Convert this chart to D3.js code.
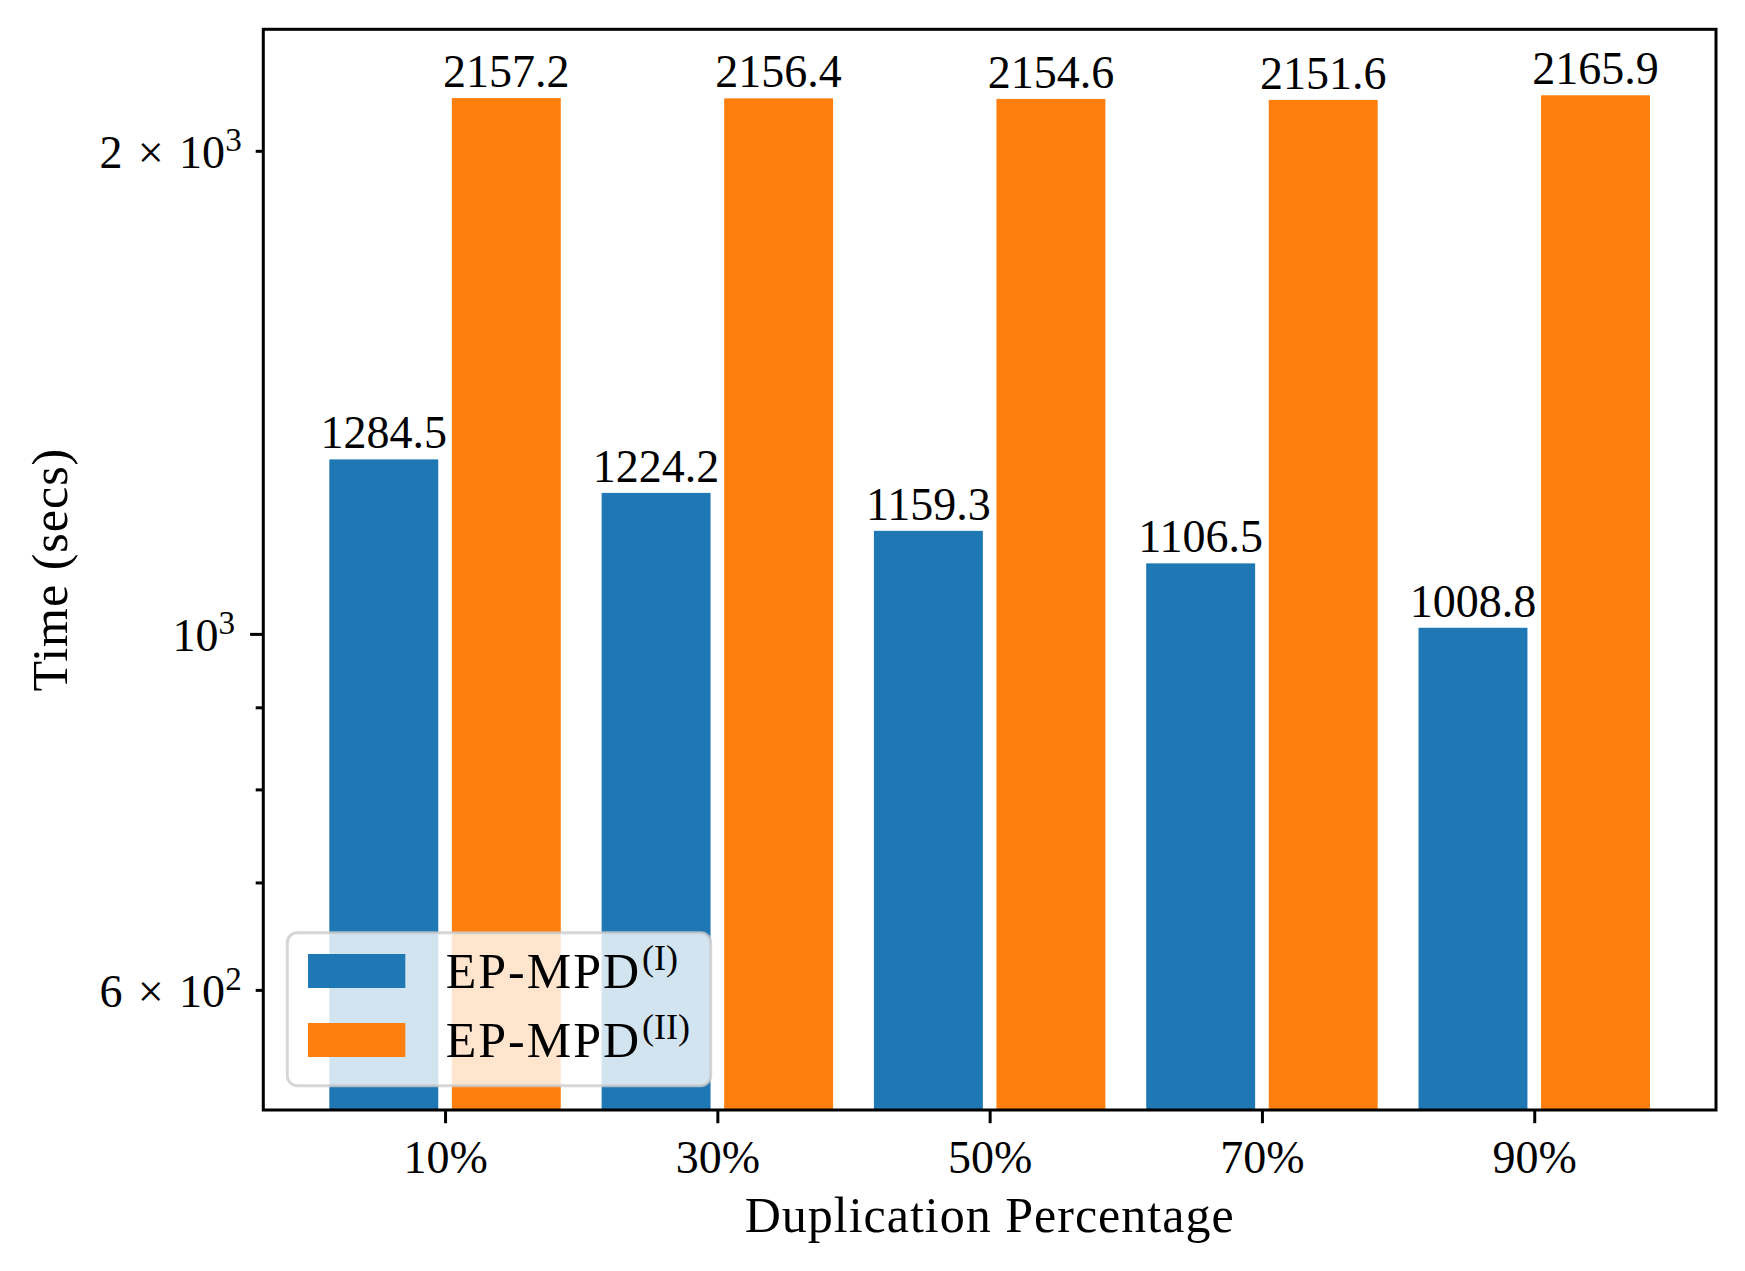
<!DOCTYPE html>
<html>
<head>
<meta charset="utf-8">
<script src="https://cdn.jsdelivr.net/npm/d3@7"></script>
<style>
  html, body { margin: 0; padding: 0; background: #fff; }
  svg { display: block; }
  text { font-family: "Liberation Serif", "DejaVu Serif", serif; fill: #000; }
</style>
</head>
<body>
<svg id="chart" width="1745" height="1271"></svg>
<script>
// ---- data ----
const categories = ["10%", "30%", "50%", "70%", "90%"];
const seriesBase = ["EP-MPD", "EP-MPD"];
const seriesSup = ["(I)", "(II)"];
const valuesI = [1284.5, 1224.2, 1159.3, 1106.5, 1008.8];
const valuesII = [2157.2, 2156.4, 2154.6, 2151.6, 2165.9];
const seriesColors = ["#1f77b4", "#ff7f0e"];
const yMajorTicks = [1000];
const yMinorTicks = [600, 700, 800, 900, 2000];
const yLabelValues = [600, 1000, 2000];
const yLabelMantissa = ["6\u2004×\u200410", "10", "2\u2004×\u200410"];
const yLabelExp = ["2", "3", "3"];
const yDomain = [505, 2381];

// ---- layout ----
const L = 263.3, R = 1716, T = 29.3, B = 1110;
const fs = 46;
const svg = d3.select("#chart");

const x = d3.scaleLinear().domain([-0.6675, 4.6675]).range([L, R]);
const y = d3.scaleLog().domain(yDomain).range([B, T]);

const barW = 0.4, off = 0.225;
const series = [valuesI, valuesII];

const gBars = svg.append("g");
series.forEach((vals, s) => {
  const dx = s === 0 ? -off : off;
  gBars.selectAll(null).data(vals).enter().append("rect")
    .attr("x", (d, i) => x(i + dx - barW / 2))
    .attr("width", (d, i) => x(i + dx + barW / 2) - x(i + dx - barW / 2))
    .attr("y", d => y(d))
    .attr("height", d => B - y(d))
    .attr("fill", seriesColors[s]);
  gBars.selectAll(null).data(vals).enter().append("text")
    .attr("x", (d, i) => x(i + dx))
    .attr("y", d => y(d) - 11)
    .attr("text-anchor", "middle")
    .attr("font-size", fs)
    .text(d => d.toFixed(1));
});

// ---- x axis ----
const xAxis = d3.axisBottom(x)
  .tickValues(d3.range(categories.length))
  .tickFormat(i => categories[i])
  .tickSize(13.2).tickPadding(13);
const gx = svg.append("g").attr("transform", `translate(0,${B})`).call(xAxis);
gx.select(".domain").remove();
gx.selectAll(".tick line").attr("stroke", "#000").attr("stroke-width", 3);
gx.selectAll(".tick text").attr("font-size", fs).attr("font-family", null)
  .attr("y", 63).attr("dy", null);

// ---- y axis ----
const gyMinor = svg.append("g").attr("transform", `translate(${L},0)`)
  .call(d3.axisLeft(y).tickValues(yMinorTicks).tickSize(7.6).tickFormat(""));
gyMinor.select(".domain").remove();
gyMinor.selectAll(".tick line").attr("stroke", "#000").attr("stroke-width", 3);
const gyMajor = svg.append("g").attr("transform", `translate(${L},0)`)
  .call(d3.axisLeft(y).tickValues(yMajorTicks).tickSize(13.2).tickFormat(""));
gyMajor.select(".domain").remove();
gyMajor.selectAll(".tick line").attr("stroke", "#000").attr("stroke-width", 3);

const gyLab = svg.append("g");
yLabelValues.forEach((v, i) => {
  const isMajor = yMajorTicks.includes(v);
  const xr = isMajor ? L - 13.2 - 15 : L - 7.6 - 14;
  const t = gyLab.append("text")
    .attr("x", xr).attr("y", y(v) + 17.5)
    .attr("text-anchor", "end").attr("font-size", fs);
  t.append("tspan").text(yLabelMantissa[i]);
  t.append("tspan").attr("font-size", fs * 0.72).attr("dy", -17).text(yLabelExp[i]);
});

// ---- spines ----
svg.append("rect").attr("x", L).attr("y", T).attr("width", R - L).attr("height", B - T)
  .attr("fill", "none").attr("stroke", "#000").attr("stroke-width", 3);

// ---- axis labels ----
svg.append("text").attr("x", (L + R) / 2).attr("y", 1232)
  .attr("text-anchor", "middle").attr("font-size", 50).attr("letter-spacing", 1)
  .text("Duplication Percentage");
svg.append("text").attr("transform", `translate(67,${(T + B) / 2}) rotate(-90)`)
  .attr("text-anchor", "middle").attr("font-size", 50).attr("letter-spacing", 1)
  .text("Time (secs)");

// ---- legend ----
const lg = svg.append("g");
lg.append("rect").attr("x", 287.3).attr("y", 932.7).attr("width", 423.4).attr("height", 153)
  .attr("rx", 10).attr("ry", 10)
  .attr("fill", "#fff").attr("fill-opacity", 0.8)
  .attr("stroke", "#cccccc").attr("stroke-opacity", 0.8).attr("stroke-width", 3);
seriesBase.forEach((name, i) => {
  const yy = 954 + i * 69;
  lg.append("rect").attr("x", 308).attr("y", yy).attr("width", 97.3).attr("height", 34)
    .attr("fill", seriesColors[i]);
  const t = lg.append("text").attr("x", 445.7).attr("y", yy + 34.3).attr("font-size", 50);
  t.append("tspan").attr("letter-spacing", 2).text(name);
  t.append("tspan").attr("font-size", 50 * 0.72).attr("dx", 1).attr("dy", -18).text(seriesSup[i]);
});
</script>
</body>
</html>
